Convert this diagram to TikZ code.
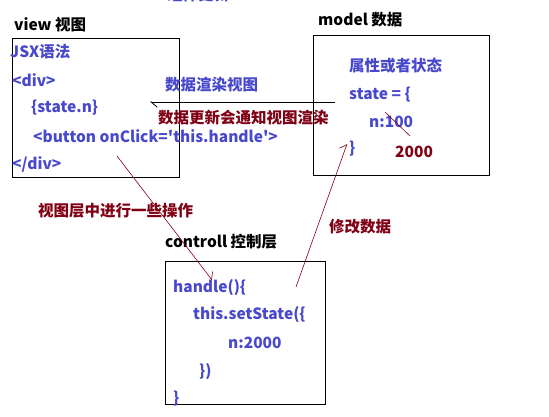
\documentclass[tikz,border=0pt]{standalone}
\usepackage{fontspec}
\setmainfont{Noto Sans CJK SC}[Ligatures=TeXOff]
\usetikzlibrary{arrows.meta}
\definecolor{codeblue}{RGB}{72,72,205}
\definecolor{notered}{RGB}{128,0,20}

\begin{document}
\begin{tikzpicture}[x=1pt, y=-1pt, font=\bfseries\fontsize{15.5}{17}\selectfont,
    code/.style={anchor=west, inner sep=0pt, text=codeblue},
    note/.style={anchor=west, inner sep=0pt, text=notered},
    heading/.style={anchor=west, inner sep=0pt, text=black},
    panel/.style={draw, line width=0.9pt, anchor=north west, inner sep=0pt},
    flow/.style={notered, line width=0.6pt, -{Straight Barb[harpoon, angle=90:8pt]}}]
    \useasboundingbox (0,0) rectangle (549,416);

    % the three layers
    \node[panel, minimum width=167pt, minimum height=139pt] (view) at (12,38) {};
    \node[panel, minimum width=176pt, minimum height=140pt] (model) at (313,35) {};
    \node[panel, minimum width=160pt, minimum height=143pt] (controll) at (165,261) {};

    \node[code] (hint) at (167,-5) {组件更新};
    \node[heading] (viewtitle) at (14,25) {view 视图};
    \node[heading] (modeltitle) at (318,20) {model 数据};
    \node[heading] (controlltitle) at (165,242) {controll 控制层};

    % view
    \node[code] (jsx) at (10,52) {JSX语法};
    \node[code] (divopen) at (12,80) {<div>};
    \node[code] (staten) at (31,108) {\{state.n\}};
    \node[code] (button) at (33,136) {<button onClick='this.handle'>};
    \node[code] (divclose) at (12,164) {</div>};

    % model
    \node[code] (attr) at (349,66) {属性或者状态};
    \node[code] (stateopen) at (349,95) {state = \{};
    \node[code] (nold) at (369,122) {n:100};
    \node[code] (stateclose) at (349,149) {\}};
    \node[note] (nnew) at (395,152) {2000};

    % controll
    \node[code] (handle) at (173,288) {handle()\{};
    \node[code] (setstate) at (193,315) {this.setState(\{};
    \node[code] (nset) at (228,343) {n:2000};
    \node[code] (setclose) at (199,372) {\})};
    \node[code] (handleclose) at (173,399) {\}};

    % labels on the connectors
    \node[code] (render) at (165,85) {数据渲染视图};
    \node[note] (notify) at (158,118) {数据更新会通知视图渲染};
    \node[note] (action) at (38,211) {视图层中进行一些操作};
    \node[note] (modify) at (329,227) {修改数据};

    \coordinate (renderfrom) at (335,102);
    \coordinate (renderto) at (150,102);
    \coordinate (actionfrom) at (117,156);
    \coordinate (actionto) at (212,280);
    \coordinate (modifyfrom) at (296,287);
    \coordinate (modifyto) at (347,144);
    \coordinate (strikefrom) at (385,112);
    \coordinate (striketo) at (410,136);

    \draw[line width=0.8pt, -{Straight Barb[harpoon, angle=80:8pt]}] (renderfrom) -- (renderto);
    \draw[flow] (actionfrom) -- (actionto);
    \draw[flow] (modifyfrom) -- (modifyto);
    \draw[notered, line width=0.6pt] (strikefrom) -- (striketo);
\end{tikzpicture}
\end{document}
